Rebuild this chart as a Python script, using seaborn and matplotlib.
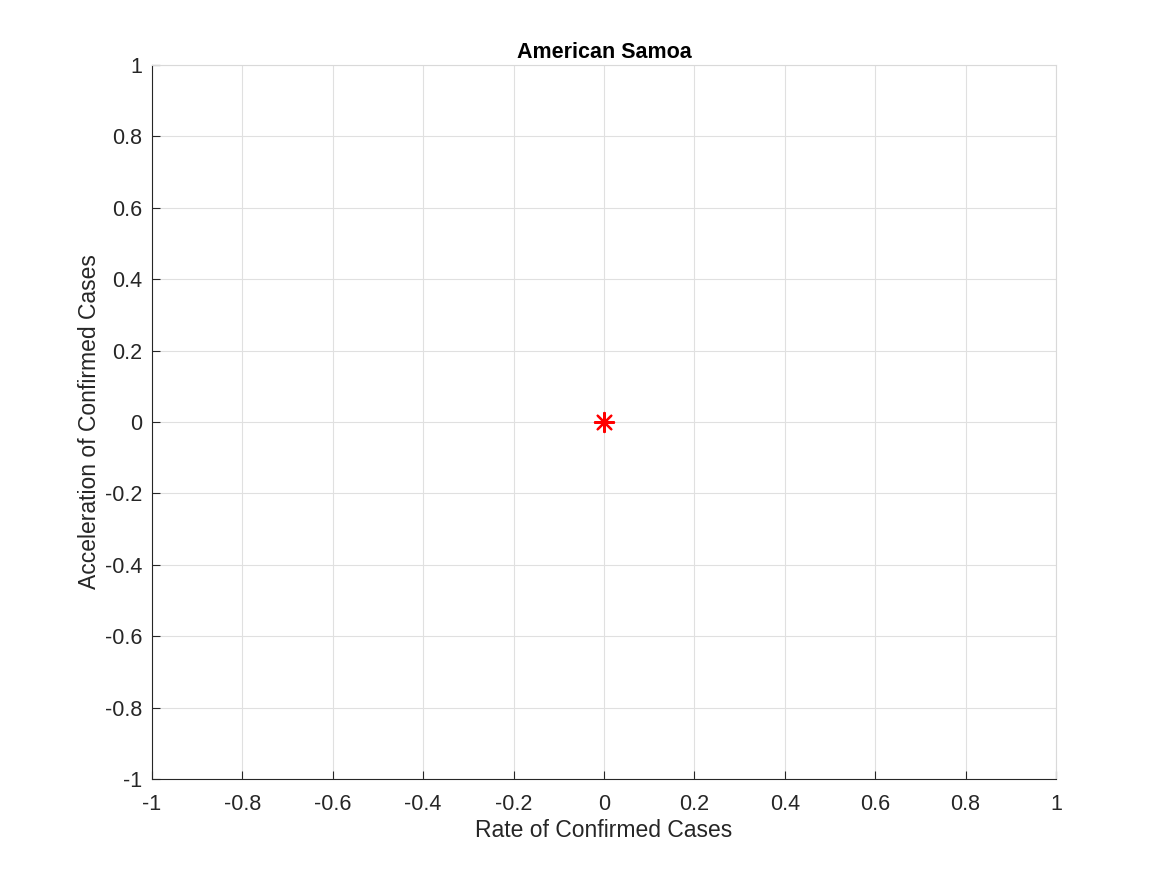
import numpy as np
import pandas as pd
import seaborn as sns
import matplotlib.pyplot as plt

rate = [0.0]
acceleration = [0.0]
title = "American Samoa"
tick_values = [-1, -0.8, -0.6, -0.4, -0.2, 0, 0.2, 0.4, 0.6, 0.8, 1]
tick_labels = ["-1", "-0.8", "-0.6", "-0.4", "-0.2", "0", "0.2", "0.4", "0.6", "0.8", "1"]

df = pd.DataFrame({"rate": rate, "acceleration": acceleration})

sns.set_style("white")
plt.rcParams['font.family'] = ['Liberation Sans', 'DejaVu Sans']

fig = plt.figure(figsize=(11.67, 8.75), dpi=100)
ax = fig.add_axes([0.1302, 0.1097, 0.7747, 0.8160])

sns.scatterplot(data=df, x="rate", y="acceleration", ax=ax, marker=(8, 2, 0), s=190,
                color="red", edgecolor="red", linewidth=1.6, zorder=3)

ax.set_xlim(-1, 1)
ax.set_ylim(-1, 1)
ax.set_xticks(tick_values)
ax.set_yticks(tick_values)
ax.set_xticklabels(tick_labels)
ax.set_yticklabels(tick_labels)
ax.grid(True, color="#e0e0e0", linewidth=0.8)
ax.tick_params(direction="in", length=6, width=0.8, color="#262626", labelsize=15.5,
               labelcolor="#262626", top=False, right=False, bottom=True, left=True)
ax.tick_params(axis="x", pad=11)
ax.tick_params(axis="y", pad=7)
for name, s in ax.spines.items():
    s.set_linewidth(0.8)
    s.set_color("#262626" if name in ("left", "bottom") else "#d9d9d9")

ax.set_xlabel("Rate of Confirmed Cases", fontsize=16.5, color="#262626", labelpad=3)
ax.set_ylabel("Acceleration of Confirmed Cases", fontsize=16.5, color="#262626", labelpad=3)
ax.set_title(title, fontsize=15.5, fontweight="bold", color="black", pad=5)

fig.savefig("out.png", dpi=100)
